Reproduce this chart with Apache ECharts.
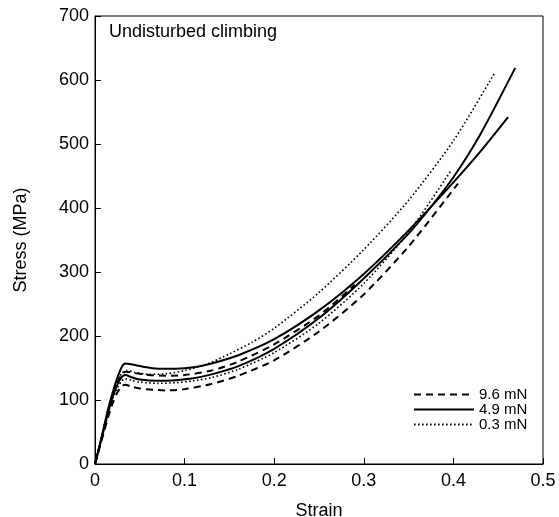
<!DOCTYPE html>
<html>
<head>
<meta charset="utf-8">
<script src="https://cdn.jsdelivr.net/npm/echarts@6/dist/echarts.min.js"></script>
<style>html,body{margin:0;padding:0;background:#fff}#c{width:559px;height:517px}</style>
</head>
<body>
<div id="c"></div>
<script>
var xTicks = [0, 0.1, 0.2, 0.3, 0.4, 0.5];
var yTicks = [0, 100, 200, 300, 400, 500, 600, 700];
var legendNames = ['9.6 mN', '4.9 mN', '0.3 mN'];

// 9.6 mN (dashed)
var dashedLow = [[0,0],[0.005,25],[0.01,50],[0.015,75],[0.02,96],[0.025,112],[0.03,122],[0.034,124],[0.04,121],[0.05,118],[0.065,116],[0.08,115],[0.1,117],[0.13,125],[0.16,138],[0.2,162],[0.25,207],[0.3,265],[0.35,340],[0.405,438]];
var dashedHigh = [[0,0],[0.005,28],[0.01,56],[0.015,84],[0.02,107],[0.025,127],[0.03,140],[0.034,144],[0.045,142],[0.06,139],[0.08,138],[0.1,139],[0.13,146],[0.16,160],[0.2,187],[0.25,232],[0.29,280]];
// 4.9 mN (solid)
var solidHigh = [[0,0],[0.005,28],[0.01,58],[0.015,88],[0.02,113],[0.025,135],[0.03,152],[0.034,157],[0.04,156],[0.05,153],[0.07,149],[0.09,149],[0.11,151],[0.13,157],[0.16,170],[0.2,195],[0.25,240],[0.3,297],[0.35,365],[0.4,440],[0.43,488],[0.461,542]];
var solidLow = [[0,0],[0.005,27],[0.01,55],[0.015,83],[0.02,106],[0.025,124],[0.03,136],[0.034,139],[0.04,136],[0.05,132],[0.07,130],[0.09,131],[0.11,134],[0.13,140],[0.16,153],[0.2,180],[0.25,228],[0.3,290],[0.35,360],[0.374,400],[0.4,448],[0.43,515],[0.469,619]];
// 0.3 mN (dotted)
var dottedHigh = [[0,0],[0.005,28],[0.01,57],[0.015,85],[0.02,110],[0.025,130],[0.03,142],[0.035,146],[0.045,143],[0.06,140],[0.08,141],[0.1,146],[0.125,156],[0.15,172],[0.175,190],[0.2,212],[0.25,268],[0.3,335],[0.35,412],[0.4,505],[0.446,611]];
var dottedLow = [[0,0],[0.005,26],[0.01,53],[0.015,80],[0.02,102],[0.025,119],[0.03,130],[0.034,133],[0.04,131],[0.05,128],[0.07,126],[0.09,127],[0.11,130],[0.13,135],[0.16,148],[0.2,174],[0.25,220],[0.3,282],[0.35,362],[0.397,458]];

var FONT = 'Liberation Sans, Arial, Helvetica, sans-serif';
function mk(name, data, width, dash) {
  return {
    name: name, type: 'line', data: data, symbol: 'none', showSymbol: false, smooth: 0.25,
    lineStyle: { color: '#000', width: width, type: dash || 'solid' },
    itemStyle: { color: '#000', opacity: 0 }, z: 3, animation: false
  };
}
var chart = echarts.init(document.getElementById('c'), null, { renderer: 'canvas' });
chart.setOption({
  animation: false,
  backgroundColor: '#fff',
  grid: { left: 95, right: 16, top: 16, bottom: 53, show: true, borderColor: '#000', borderWidth: 1, containLabel: false, outerBoundsMode: 'none' },
  title: { text: 'Undisturbed climbing', left: 104, top: 18, textStyle: { fontFamily: FONT, fontSize: 18, fontWeight: 'normal', color: '#000' } },
  legend: {
    data: legendNames, orient: 'vertical', left: 408, top: 382, itemWidth: 60, itemHeight: 10, itemGap: 0,
    itemStyle: { opacity: 0 },
    textStyle: { fontFamily: FONT, fontSize: 15, color: '#000', lineHeight: 15 }
  },
  xAxis: {
    type: 'value', min: 0, max: 0.5, interval: 0.1,
    name: 'Strain', nameLocation: 'middle', nameGap: 38,
    nameTextStyle: { fontFamily: FONT, fontSize: 18, color: '#000' },
    axisLine: { show: true, lineStyle: { color: '#000', width: 1 } },
    axisTick: { show: true, inside: true, length: 6, lineStyle: { color: '#000' } },
    axisLabel: { fontFamily: FONT, fontSize: 18, color: '#000', margin: 8, formatter: function (v) { var r = Math.round(v*10)/10; return xTicks.indexOf(r) >= 0 ? String(r) : ''; } },
    splitLine: { show: false }
  },
  yAxis: {
    type: 'value', min: 0, max: 700, interval: 100,
    name: 'Stress (MPa)', nameLocation: 'middle', nameGap: 65,
    nameTextStyle: { fontFamily: FONT, fontSize: 18, color: '#000' },
    axisLine: { show: true, lineStyle: { color: '#000', width: 1 } },
    axisTick: { show: true, inside: true, length: 6, lineStyle: { color: '#000' } },
    axisLabel: { fontFamily: FONT, fontSize: 18, color: '#000', margin: 6, formatter: function (v) { return yTicks.indexOf(v) >= 0 ? String(v) : ''; } },
    splitLine: { show: false }
  },
  series: [
    mk(legendNames[0], dashedLow, 2, [7, 5]),
    mk(legendNames[1], solidHigh, 2),
    mk(legendNames[2], dottedHigh, 1.6, [1.6, 2.4]),
    mk(legendNames[0], dashedHigh, 2, [7, 5]),
    mk(legendNames[1], solidLow, 2),
    mk(legendNames[2], dottedLow, 1.6, [1.6, 2.4])
  ]
});
</script>
</body>
</html>
